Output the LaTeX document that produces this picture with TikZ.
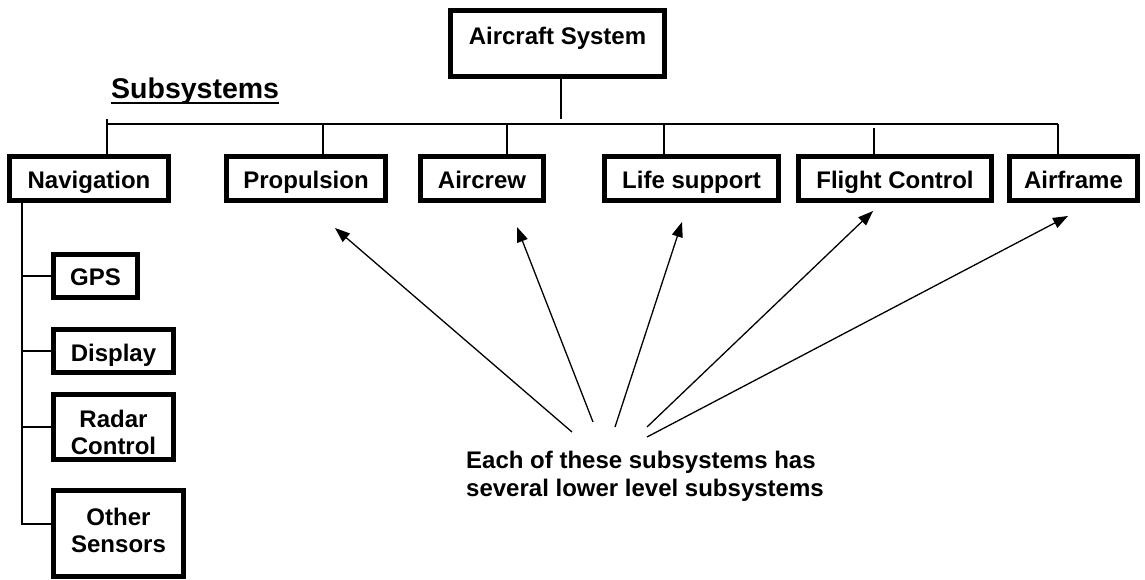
\documentclass[tikz,border=0pt]{standalone}
\usepackage{fontspec}
\setmainfont{Liberation Sans}
\usetikzlibrary{arrows.meta}

\begin{document}
\begin{tikzpicture}[x=1pt,y=-1pt,
  box/.style={draw,line width=5pt,inner sep=0pt,font=\fontsize{24}{27}\selectfont\bfseries},
  wire/.style={line width=1.5pt},
  arr/.style={line width=1.3pt,-{Triangle[length=15pt,width=11pt]}}]
\useasboundingbox (0,0) rectangle (1145,579);

\node[box,minimum width=214pt,text height=33.5pt,text depth=32.5pt] (sys) at (557.5,43.5) {Aircraft System};
\node[font=\fontsize{28.5}{32}\selectfont\bfseries,inner sep=0pt,anchor=base west] (subs) at (111,98) {Subsystems};
\draw[line width=2pt] ([yshift=-5pt]subs.base west) -- ([yshift=-5pt]subs.base east);

\node[box,minimum width=159pt,text height=31.5pt,text depth=12.5pt] (nav) at (89,178.5) {Navigation};
\node[box,minimum width=159pt,text height=31.5pt,text depth=12.5pt] (prop) at (306,178.5) {Propulsion};
\node[box,minimum width=123pt,text height=31.5pt,text depth=12.5pt] (crew) at (482,178.5) {Aircrew};
\node[box,minimum width=174pt,text height=31.5pt,text depth=12.5pt] (life) at (691.5,178.5) {Life support};
\node[box,minimum width=193pt,text height=31.5pt,text depth=12.5pt] (flight) at (895,178.5) {Flight Control};
\node[box,minimum width=128pt,text height=31.5pt,text depth=12.5pt] (frame) at (1073.5,178.5) {Airframe};

\node[box,minimum width=84pt,text height=30.5pt,text depth=12.5pt] (gps) at (95.5,276) {GPS};
\node[box,minimum width=120pt,text height=32.2pt,text depth=10.8pt] (disp) at (113.5,351) {Display};
\node[box,minimum width=120pt,text height=59.5pt,text depth=5.5pt] (radar) at (113.5,427)
  {\begin{tabular}[b]{@{}c@{}}Radar\\Control\end{tabular}};
\node[box,minimum width=130pt,text height=61.5pt,text depth=24.5pt] (other) at (118.5,533.5)
  {\begin{tabular}[b]{@{}c@{}}Other\\Sensors\end{tabular}};

% bus
\coordinate (bl) at (107,124);
\coordinate (br) at (1058,124);
\draw[wire] (bl) -- (br);
\draw[wire] (sys.south -| 561,0) -- (561,119);
\draw[wire] (107,119) -- (nav.north -| 107,0);
\foreach \n/\x in {prop/323,crew/507,life/664,frame/1058}
  \draw[wire] (\x,124) -- (\n.north -| \x,0);
\draw[wire] (874,128) -- (flight.north -| 874,0);

% navigation branch
\coordinate (tr) at (22,524);
\draw[wire] (nav.south -| tr) -- (tr) -- (other.west |- tr);
\foreach \n in {gps,disp,radar}
  \draw[wire] (\n.west -| tr) -- (\n.west);

\node[font=\fontsize{24}{28}\selectfont\bfseries,inner sep=0pt,align=left,anchor=north west] (note) at (466,451)
  {Each of these subsystems has\\several lower level subsystems};

\foreach \n/\tx/\ty/\hx/\hy in {prop/572/432/335/228,crew/593/422/517/227,life/615/427/682/222,flight/647/427/873/211,frame/647/437/1068/216}{
  \coordinate (a-\n) at (\tx,\ty);
  \coordinate (b-\n) at (\hx,\hy);
  \draw[arr] (a-\n) -- (b-\n);
}
\end{tikzpicture}
\end{document}
